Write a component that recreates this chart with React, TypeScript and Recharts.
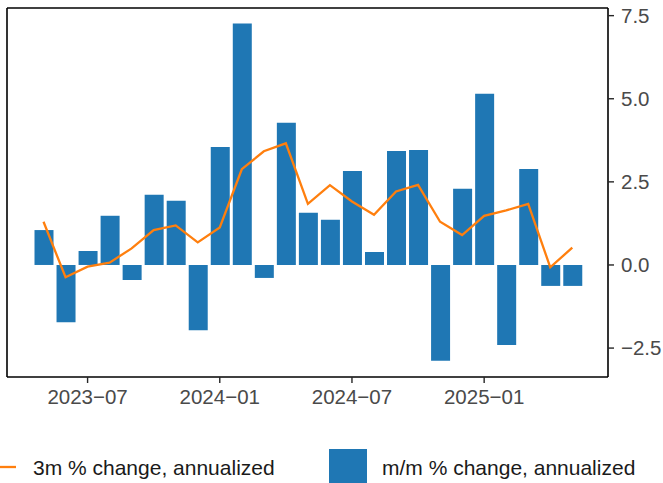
import React from 'react';
import { ComposedChart, Bar, Line, XAxis, YAxis } from 'recharts';

const months = [
  '2023-05', '2023-06', '2023-07', '2023-08', '2023-09', '2023-10', '2023-11', '2023-12',
  '2024-01', '2024-02', '2024-03', '2024-04', '2024-05', '2024-06', '2024-07', '2024-08',
  '2024-09', '2024-10', '2024-11', '2024-12', '2025-01', '2025-02', '2025-03', '2025-04', '2025-05',
];
const mmChange = [
  1.05, -1.72, 0.42, 1.48, -0.45, 2.11, 1.93, -1.96,
  3.55, 7.26, -0.39, 4.28, 1.57, 1.36, 2.83, 0.39,
  3.43, 3.46, -2.88, 2.29, 5.15, -2.41, 2.89, -0.63, -0.63,
];
const threeMChange = [
  1.3, -0.37, -0.05, 0.07, 0.5, 1.05, 1.19, 0.68,
  1.13, 2.88, 3.42, 3.66, 1.84, 2.4, 1.91, 1.51,
  2.21, 2.41, 1.3, 0.9, 1.48, 1.64, 1.84, -0.07, 0.52,
];
const xTicks = ['2023-07', '2024-01', '2024-07', '2025-01'];
const yTicks = [-2.5, 0, 2.5, 5, 7.5];
const legendLabels = ['3m % change, annualized', 'm/m % change, annualized'];

const data = months.map((m, i) => ({ month: m, mm: mmChange[i], three: threeMChange[i] }));

const FONT = '"Liberation Sans", Arial, Helvetica, sans-serif';
const BLUE = '#1f77b4';
const ORANGE = '#ff7f0e';
const DOMAIN: [number, number] = [-3.37, 7.73];
const fmtMinus = (s: string) => s.replace(/-/g, '\u2212');

export default function App() {
  return (
    <div style={{ position: 'absolute', left: 0, top: 0, width: 663, height: 483, background: '#fff', fontFamily: FONT }}>
      <ComposedChart
        width={663}
        height={483}
        data={data}
        margin={{ top: 7, right: 0, left: 6, bottom: 66 }}
      >
        <XAxis
          dataKey="month"
          xAxisId="main"
          ticks={xTicks}
          interval={0}
          tickFormatter={(v: string) => fmtMinus(v)}
          height={40}
          padding={{ left: 25.5, right: 24.7 }}
          axisLine={{ stroke: '#000', strokeWidth: 1.6 }}
          tickLine={{ stroke: '#262626', strokeWidth: 1.4 }}
          tickSize={6}
          tickMargin={6}
          tick={{ fill: '#4a4a4a', fontSize: 20.5, fontFamily: FONT }}
        />
        <XAxis
          dataKey="month"
          xAxisId="top"
          orientation="top"
          height={1}
          tick={false}
          tickLine={false}
          padding={{ left: 25.5, right: 24.7 }}
          axisLine={{ stroke: '#000', strokeWidth: 1.6 }}
        />
        <YAxis
          yAxisId="main"
          orientation="right"
          domain={DOMAIN}
          ticks={yTicks}
          interval={0}
          allowDataOverflow
          width={55}
          tickFormatter={(v: number) => fmtMinus(v.toFixed(1))}
          axisLine={{ stroke: '#000', strokeWidth: 1.6 }}
          tickLine={{ stroke: '#262626', strokeWidth: 1.4 }}
          tickSize={6}
          tickMargin={7}
          tick={{ fill: '#4a4a4a', fontSize: 20.5, fontFamily: FONT }}
        />
        <YAxis
          yAxisId="left"
          orientation="left"
          width={1}
          tick={false}
          tickLine={false}
          domain={DOMAIN}
          allowDataOverflow
          axisLine={{ stroke: '#000', strokeWidth: 1.6 }}
        />
        <Bar
          dataKey="mm"
          xAxisId="main"
          yAxisId="main"
          fill={BLUE}
          barSize={19}
          isAnimationActive={false}
        />
        <Line
          dataKey="three"
          xAxisId="top"
          yAxisId="left"
          stroke="none"
          strokeWidth={0}
          dot={false}
          activeDot={false}
          legendType="none"
          isAnimationActive={false}
        />
        <Line
          dataKey="three"
          xAxisId="main"
          yAxisId="main"
          stroke={ORANGE}
          strokeWidth={2.3}
          dot={false}
          activeDot={false}
          isAnimationActive={false}
        />
      </ComposedChart>
      <svg width={663} height={483} style={{ position: 'absolute', left: 0, top: 0, pointerEvents: 'none' }}>
        <line x1={0} y1={467} x2={16} y2={467} stroke={ORANGE} strokeWidth={2.3} />
        <text x={33} y={475} fontSize={21} fill="#1a1a1a" fontFamily={FONT}>{legendLabels[0]}</text>
        <rect x={329} y={449} width={38} height={38} fill={BLUE} />
        <text x={382} y={475} fontSize={21} fill="#1a1a1a" fontFamily={FONT}>{legendLabels[1]}</text>
      </svg>
    </div>
  );
}
